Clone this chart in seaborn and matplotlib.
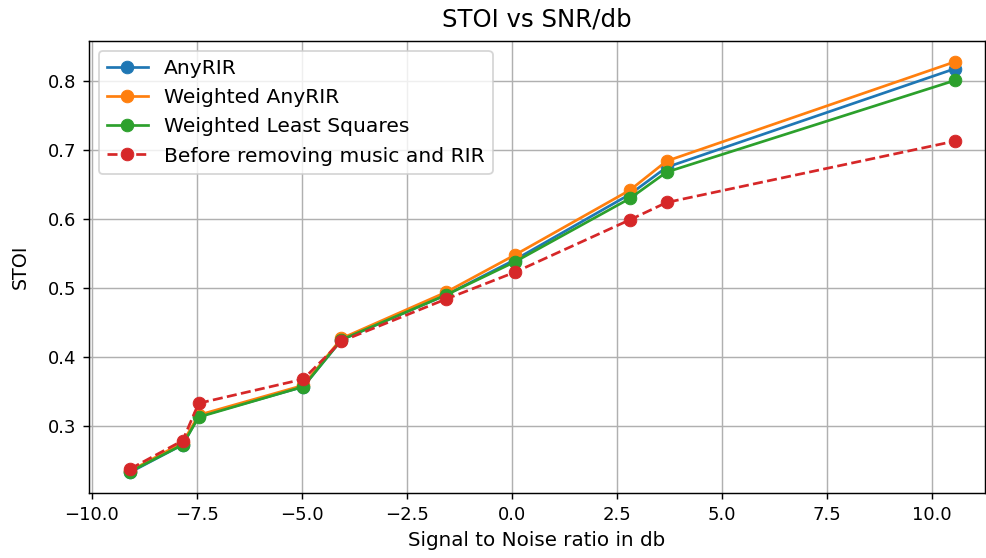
import matplotlib
matplotlib.use("Agg")
import matplotlib.pyplot as plt
import seaborn as sns

# SNR (dB) at which each condition was evaluated
snr_db = [-9.09, -7.84, -7.46, -4.97, -4.06, -1.57, 0.07, 2.81, 3.68, 10.55]

# STOI scores per method
stoi_anyrir = [0.233, 0.273, 0.314, 0.357, 0.425, 0.490, 0.541, 0.636, 0.675, 0.818]
stoi_weighted_anyrir = [0.235, 0.276, 0.316, 0.359, 0.427, 0.494, 0.548, 0.642, 0.684, 0.828]
stoi_wls = [0.234, 0.273, 0.313, 0.357, 0.425, 0.490, 0.538, 0.630, 0.668, 0.801]
stoi_before = [0.238, 0.279, 0.333, 0.368, 0.423, 0.484, 0.523, 0.599, 0.624, 0.713]

series = [
    ("AnyRIR", stoi_anyrir, "#1f77b4", "-"),
    ("Weighted AnyRIR", stoi_weighted_anyrir, "#ff7f0e", "-"),
    ("Weighted Least Squares", stoi_wls, "#2ca02c", "-"),
    ("Before removing music and RIR", stoi_before, "#d62728", "--"),
]

fig = plt.figure(figsize=(986 / 130, 558 / 130), dpi=130)
ax = fig.add_axes([89 / 986, 65 / 558, (985 - 89) / 986, (493 - 41) / 558])

for name, vals, color, ls in series:
    sns.lineplot(x=snr_db, y=vals, ax=ax, label=name, color=color,
                 linestyle=ls, marker="o", markersize=7,
                 markeredgecolor=color, markeredgewidth=0.5, linewidth=1.5)

ax.set_xlim(-10.07, 11.26)
ax.set_ylim(0.203, 0.858)
ax.set_xticks([-10, -7.5, -5, -2.5, 0, 2.5, 5, 7.5, 10])
ax.set_yticks([0.3, 0.4, 0.5, 0.6, 0.7, 0.8])
ax.grid(True, color="#b0b0b0", linewidth=0.8)
ax.set_axisbelow(True)

ax.set_title("STOI vs SNR/db", fontsize=13.5, pad=8)
ax.set_xlabel("Signal to Noise ratio in db", fontsize=11, labelpad=4)
ax.set_ylabel("STOI", fontsize=10.5, labelpad=10)
ax.legend(loc="upper left", fontsize=11.2)

fig.savefig("out.png", dpi=130)
